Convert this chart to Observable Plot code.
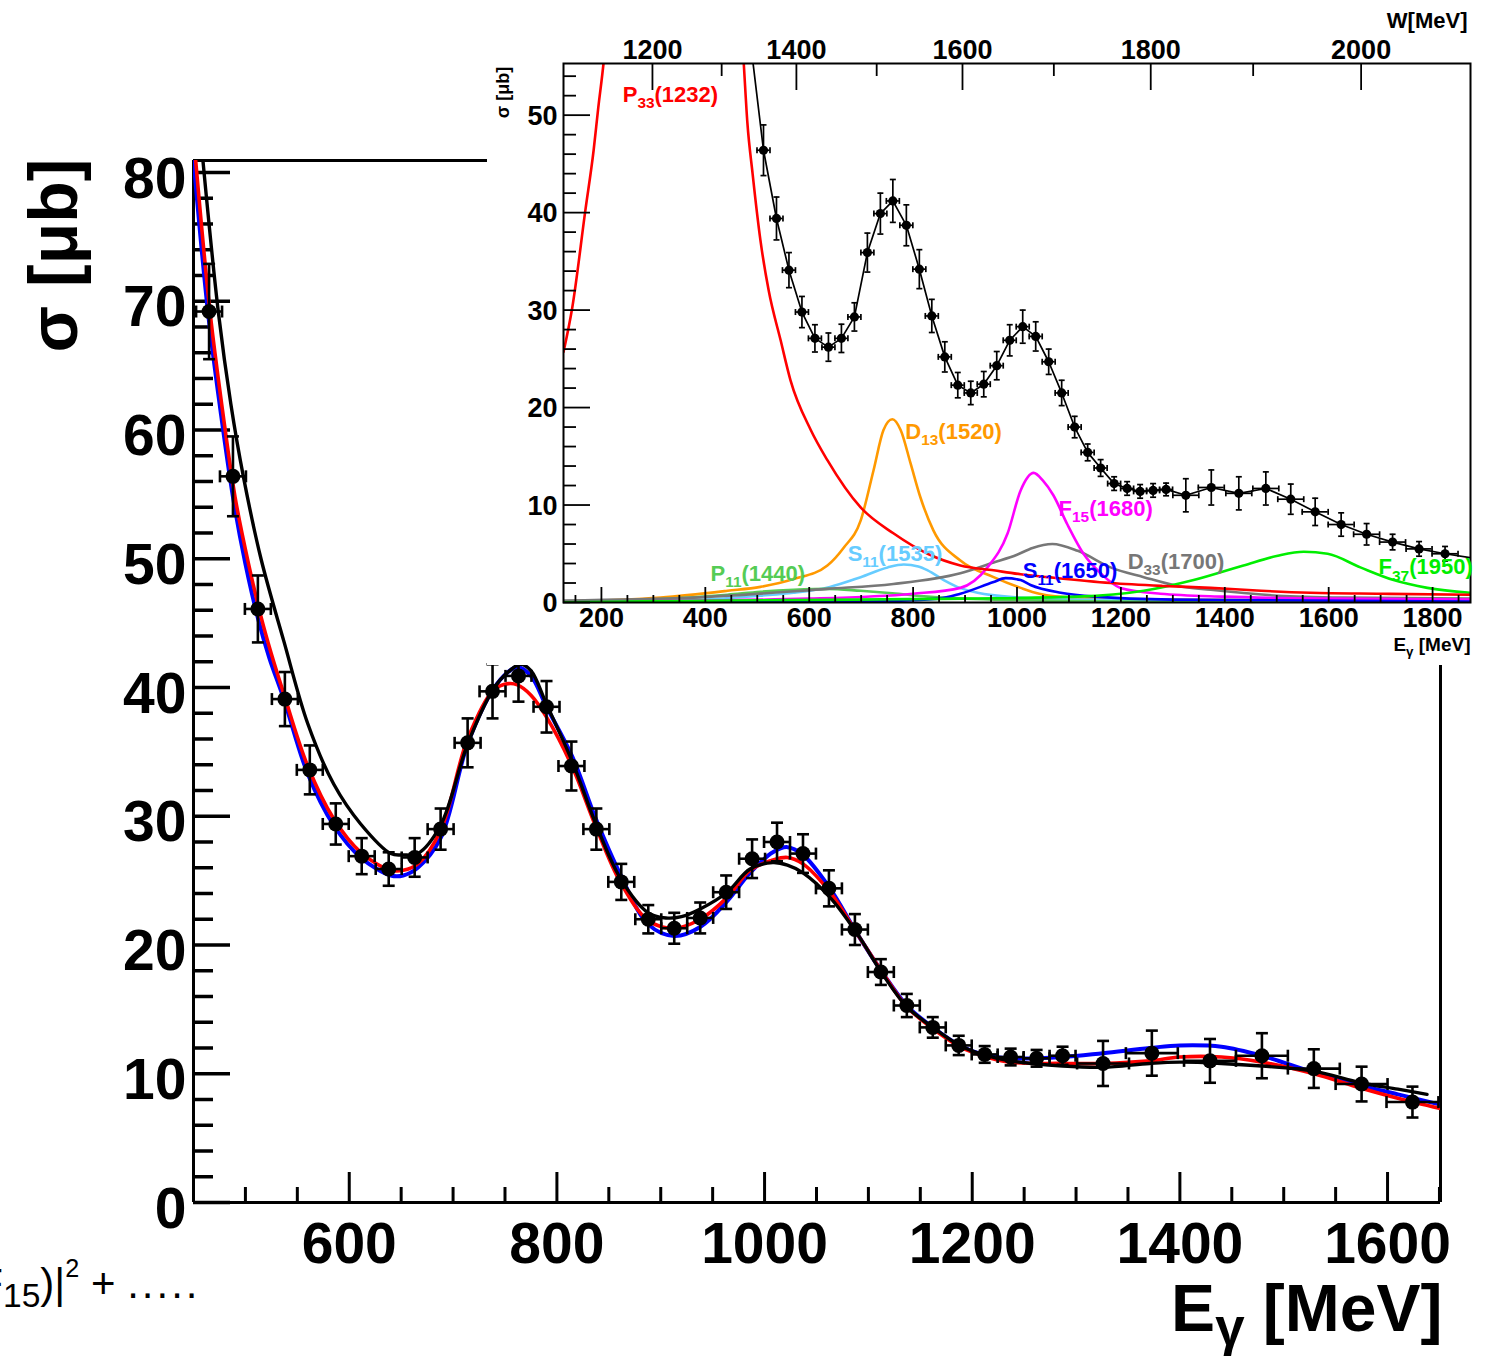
<!DOCTYPE html>
<html><head><meta charset="utf-8">
<script src="https://cdn.jsdelivr.net/npm/d3@7"></script>
<script src="https://cdn.jsdelivr.net/npm/@observablehq/plot@0.6"></script>
<style>
body{margin:0;background:#fff;}
#wrap{position:relative;width:1488px;height:1356px;overflow:hidden;background:#fff;}
</style>
</head><body><div id="wrap"></div>
<script>
// ---------------- MAIN CHART DATA ----------------
const mainE = [465,488,512,538,562,587,612,638,663,688, 714,738,763,790,814,838,862,888,913,938, 963,988,1012,1037,1062,1087,1112,1137,1162,1187, 1212,1237,1262,1287, 1326,1373,1429,1479,1529,1575,1624];
const mainV = [69.2,56.4,46.1,39.1,33.6,29.4,26.9,25.9,26.8,29.0, 35.7,39.7,40.9,38.5,33.9,29.0,24.9,22.0,21.3,22.1, 24.1,26.7,28.0,27.1,24.4,21.2,17.9,15.3,13.6,12.2, 11.5,11.3,11.2,11.4, 10.8,11.6,11.0,11.4,10.4,9.2,7.8];
const mainErr = [3.7,3.1,2.6,2.1,1.9,1.6,1.4,1.3,1.5,1.6, 1.9,2.1,2.0,2.0,1.9,1.6,1.4,1.1,1.2,1.2, 1.3,1.5,1.5,1.5,1.4,1.2,1.0,0.9,0.8,0.75, 0.65,0.65,0.65,0.7, 1.75,1.75,1.7,1.75,1.5,1.35,1.2];
const mainXErr = [12.5,12.5,12.5,12.5,12.5,12.5,12.5,12.5,12.5,12.5, 12.5,12.5,12.5,12.5,12.5,12.5,12.5,12.5,12.5,12.5, 12.5,12.5,12.5,12.5,12.5,12.5,12.5,12.5,12.5,12.5, 12.5,12.5,12.5,12.5, 25,25,25,25,25,25,25];

const blueE = [450,464,476,488,500,512,523,537,560,585, 611,640,652,666,688,714,739,753,762,775, 790,815,837,861,888,913,938,964,986,1008, 1022,1037,1063,1089,1114,1137,1162,1188,1210,1236, 1287,1326,1371,1400,1440,1479,1529,1574,1610,1651];
const blueV = [81,69.1,61.5,54.8,49.6,45.4,42.3,39.1,33.3,29.3, 26.8,25.4,25.4,26.0,28.3,35.6,39.9,41.2,41.6,40.9, 38.5,34.6,29.9,25.5,21.6,20.7,21.4,23.4,25.6,27.2, 27.6,27.0,24.4,20.9,17.8,15.3,13.6,12.2,11.5,11.2, 11.3,11.6,12.0,12.2,12.1,11.4,10.1,9.1,8.4,7.6];
const redE = [452,466,478,490,503,515,525,537,560,585, 611,640,652,666,688,714,739,753,762,775, 790,815,837,861,888,913,938,964,986,1008, 1022,1037,1063,1089,1114,1137,1162,1188,1210,1236, 1287,1326,1371,1400,1440,1479,1529,1574,1610,1651];
const redV = [81,69.1,61.5,54.8,49.6,45.5,42.6,39.5,33.9,29.8, 27.2,25.8,25.8,26.3,28.9,36.0,39.8,40.3,40.2,39.4, 37.7,33.8,29.3,24.9,21.9,21.3,22.0,23.7,25.8,26.6, 26.8,26.3,24.1,20.9,17.8,15.2,13.5,12.1,11.4,10.9, 10.8,10.8,11.0,11.3,11.3,10.9,10.0,8.9,8.1,7.3];
const blackE = [459,474,486,498,515,537,560,585,611,640, 652,666,688,714,739,753,765,775,790,815, 837,861,888,905,920,938,964,986,1008,1022, 1037,1063,1089,1114,1137,1162,1188,1210,1236,1287, 1326,1371,1400,1440,1479,1529,1574,1610,1638];
const blackV = [81,69.1,62.0,56.4,50.0,43.6,37.2,32.5,29.4,27.1, 27.0,27.1,29.3,35.6,39.9,41.2,41.8,41.3,38.7,34.2, 29.5,25.2,22.5,22.1,22.2,22.8,24.1,25.9,26.4,26.2, 25.6,23.7,20.9,17.7,15.2,13.6,12.2,11.5,11.0,10.6, 10.5,10.8,10.9,10.8,10.6,10.2,9.3,8.8,8.4];

const mainXMajor = [600,800,1000,1200,1400,1600];
const mainXMinor = [500,550,650,700,750,850,900,950,1050,1100,1150,1250,1300,1350,1450,1500,1550,1650];
const mainYMajor = [0,10,20,30,40,50,60,70,80];
const mainYMinor = [2,4,6,8,12,14,16,18,22,24,26,28,32,34,36,38,42,44,46,48,52,54,56,58,62,64,66,68,72,74,76,78];

// ---------------- INSET DATA ----------------
const insetE = [512,537,561,586,611,637,662,687,712,737, 761,787,812,836,861,886,911,936,961,986, 1011,1036,1061,1086,1111,1136,1161,1187,1212,1237, 1262,1287, 1325,1374,1427,1479,1527,1574,1624,1673,1723,1774,1824];
const insetV = [46.4,39.4,34.1,29.8,27.1,26.2,27.1,29.3,35.9,39.9, 41.2,38.7,34.2,29.4,25.2,22.3,21.5,22.4,24.3,26.9, 28.3,27.3,24.7,21.5,18.0,15.4,13.8,12.2,11.7,11.4, 11.5,11.6, 11.0,11.8,11.2,11.7,10.6,9.3,8.0,7.0,6.2,5.5,5.0];
const insetErr = [2.6,2.2,1.8,1.6,1.4,1.45,1.45,1.45,2.0,2.1, 2.2,2.1,2.0,1.7,1.55,1.3,1.2,1.3,1.45,1.6, 1.7,1.5,1.3,1.3,1.1,0.86,0.86,0.7,0.7,0.7, 0.7,0.65, 1.7,1.8,1.7,1.7,1.55,1.4,1.2,1.1,0.8,0.75,0.75];
const insetXErr = [12.5,12.5,12.5,12.5,12.5,12.5,12.5,12.5,12.5,12.5, 12.5,12.5,12.5,12.5,12.5,12.5,12.5,12.5,12.5,12.5, 12.5,12.5,12.5,12.5,12.5,12.5,12.5,12.5,12.5,12.5, 12.5,12.5, 25,25,25,25,25,25,25,25,25,25,25];
const fitStartE = [487], fitStartV = [57.5];
const fitEndE = [1873], fitEndV = [4.6];

const p33LeftE = [127,144,169,185,194,204,212];
const p33LeftV = [25.7,30.3,40.2,46.4,50.8,55.3,60];
const p33RightE = [466,474,481,491,506,522,545,564,603,635,699,762,828,891,955,1007,1060,1180,1280,1373,1470,1565,1700,1873];
const p33RightV = [62,55.3,49.2,44.0,37.2,32.0,26.9,22.8,17.7,14.6,9.75,7.1,5.0,3.8,3.3,2.9,2.6,2.0,1.7,1.5,1.2,1.0,0.9,0.8];
const d13E = [127,314,443,506,570,635,666,699,724,743,760,776,795,814,839,891,955,1007,1043,1110,1300,1873];
const d13V = [0.1,0.5,1.2,1.6,2.4,3.8,5.6,8.4,13.6,17.7,18.8,17.7,14.3,10.8,7.4,4.3,2.6,1.5,0.9,0.5,0.3,0.1];
const s11aE = [127,400,506,570,640,699,751,782,810,828,859,890,924,1007,1100,1873];
const s11aV = [0.05,0.3,0.7,1.0,1.6,2.6,3.6,3.9,3.7,3.3,2.3,1.5,1.0,0.5,0.3,0.1];
const p11E = [127,300,443,506,570,635,699,760,828,900,1000,1200,1873];
const p11V = [0.05,0.3,0.8,1.1,1.3,1.4,1.2,0.95,0.6,0.4,0.25,0.1,0.05];
const f15E = [127,600,800,891,943,982,1007,1032,1050,1070,1097,1128,1161,1199,1276,1400,1600,1873];
const f15V = [0.05,0.4,0.9,1.5,3.6,7.1,11.5,13.3,12.5,11.0,8.0,5.0,3.0,1.5,0.9,0.6,0.4,0.3];
const d33E = [127,377,635,762,891,955,1000,1030,1068,1117,1180,1244,1309,1373,1502,1629,1873];
const d33V = [0.2,0.5,1.4,1.9,3.0,4.1,4.9,5.6,6.0,5.3,3.6,2.6,1.7,1.3,0.7,0.5,0.4];
const s11bE = [127,700,850,891,955,978,1007,1026,1084,1150,1300,1873];
const s11bV = [0.02,0.1,0.4,0.9,2.1,2.5,2.3,1.8,1.0,0.6,0.3,0.1];
const f37E = [127,443,900,1117,1244,1340,1436,1502,1552,1598,1661,1725,1790,1873];
const f37V = [0.05,0.2,0.4,0.6,1.2,2.3,3.8,4.8,5.2,5.0,3.6,2.3,1.5,1.0];

const labelText = ["P_{33}(1232)","D_{13}(1520)","F_{15}(1680)","S_{11}(1535)","P_{11}(1440)","S_{11}(1650)","D_{33}(1700)","F_{37}(1950)"];
const labelE = [241,785,1080,674,410,1011,1213,1696];
const labelV = [52.1,17.5,9.6,5.0,2.9,3.2,4.2,3.6];
const labelColor = ["#ff0000","#ff9900","#ff00ff","#66ccff","#55cc55","#0000ff","#777777","#00ee00"];

const insetXMajor = [200,400,600,800,1000,1200,1400,1600,1800];
const insetXMinor = [150,250,300,350,450,500,550,650,700,750,850,900,950,1050,1100,1150,1250,1300,1350,1450,1500,1550,1650,1700,1750,1850];
const insetYMajor = [0,10,20,30,40,50];
const insetYMinor = [2,4,6,8,12,14,16,18,22,24,26,28,32,34,36,38,42,44,46,48,52,54];
const wMajor = [1200,1400,1600,1800,2000];
const wMinor = [1300,1500,1700,1900];

// ---------------- helpers ----------------
const NS = "http://www.w3.org/2000/svg";
const MN = 938.27;
const wToE = w => (w*w - MN*MN) / (2*MN);
const pairs = (E, V) => E.map((e, i) => ({E: e, v: V[i]}));
const hcap = {draw(ctx, size){const r = Math.sqrt(size/Math.PI); ctx.moveTo(-r,0); ctx.lineTo(r,0);}};
const vcap = {draw(ctx, size){const r = Math.sqrt(size/Math.PI); ctx.moveTo(0,-r); ctx.lineTo(0,r);}};

function errorMarks(data, {sw, cap, r}) {
  return [
    Plot.ruleX(data, {x: "E", y1: d => d.v - d.e, y2: d => d.v + d.e, stroke: "black", strokeWidth: sw}),
    Plot.ruleY(data, {y: "v", x1: d => d.E - d.h, x2: d => d.E + d.h, stroke: "black", strokeWidth: sw}),
    Plot.dot(data, {x: "E", y: d => d.v + d.e, symbol: hcap, r: cap, fill: "none", stroke: "black", strokeWidth: sw}),
    Plot.dot(data, {x: "E", y: d => d.v - d.e, symbol: hcap, r: cap, fill: "none", stroke: "black", strokeWidth: sw}),
    Plot.dot(data, {x: d => d.E - d.h, y: "v", symbol: vcap, r: cap, fill: "none", stroke: "black", strokeWidth: sw}),
    Plot.dot(data, {x: d => d.E + d.h, y: "v", symbol: vcap, r: cap, fill: "none", stroke: "black", strokeWidth: sw}),
    Plot.dot(data, {x: "E", y: "v", r, fill: "black", stroke: "none"})
  ];
}

// markup: _{..} subscript, _[..] large subscript, ^{..} superscript, ^[..] small superscript, ~{..} spaced
function richify(root) {
  root.querySelectorAll("text").forEach(t => {
    const s = t.textContent;
    if (!/[_^~][\{\[]/.test(s)) return;
    const fs = parseFloat(getComputedStyle(t).fontSize);
    while (t.firstChild) t.removeChild(t.firstChild);
    const re = /([_^~])(?:\{([^}]*)\}|\[([^\]]*)\])|([^_^~]+)/g;
    let m, shift = 0;
    while ((m = re.exec(s))) {
      const ts = document.createElementNS(NS, "tspan");
      let target = 0;
      if (m[4] != null) ts.textContent = m[4];
      else {
        const big = m[3] != null;
        const content = big ? m[3] : m[2];
        ts.textContent = content;
        if (m[1] === "~") {
          ts.setAttribute("letter-spacing", "3px");
        } else if (m[1] === "_") {
          ts.setAttribute("font-size", (fs * (big ? 0.8 : 0.7)) + "px");
          target = fs * (big ? 0.22 : 0.28);
        } else {
          ts.setAttribute("font-size", (fs * (big ? 0.6 : 0.7)) + "px");
          target = -fs * (big ? 0.5 : 0.45);
        }
      }
      const d = target - shift;
      if (d) ts.setAttribute("dy", d);
      shift = target;
      t.appendChild(ts);
    }
  });
}

// ---------------- MAIN PLOT ----------------
const mainData = mainE.map((E, i) => ({E, v: mainV[i], e: mainErr[i], h: mainXErr[i]}));
const W = 1488, H = 1356, mL = 193, mR = 48, mT = 160, mB = 154;
const fW = W - mL - mR, fH = H - mT - mB;
const bold = "bold";
const mid = {textAnchor: "middle", lineAnchor: "middle"};

const main = Plot.plot({
  width: W, height: H,
  marginLeft: mL, marginRight: mR, marginTop: mT, marginBottom: mB,
  x: {domain: [450, 1651], axis: null},
  y: {domain: [0, 80.93], axis: null},
  style: {background: "transparent", fontFamily: "'Liberation Sans', Arial, sans-serif", overflow: "visible"},
  marks: [
    Plot.ruleX([450, 1651], {stroke: "black", strokeWidth: 3}),
    Plot.ruleY([0, 80.93], {stroke: "black", strokeWidth: 3}),
    Plot.ruleX(mainXMajor, {stroke: "black", strokeWidth: 3, insetTop: fH - 30}),
    Plot.ruleX(mainXMinor, {stroke: "black", strokeWidth: 3, insetTop: fH - 15}),
    Plot.ruleY(mainYMajor, {stroke: "black", strokeWidth: 3.5, insetRight: fW - 37}),
    Plot.ruleY(mainYMinor, {stroke: "black", strokeWidth: 3.5, insetRight: fW - 20}),
    Plot.line(pairs(blueE, blueV), {x: "E", y: "v", stroke: "#0000ff", strokeWidth: 4, curve: "catmull-rom", clip: true}),
    Plot.line(pairs(redE, redV), {x: "E", y: "v", stroke: "#ff0000", strokeWidth: 3.6, curve: "catmull-rom", clip: true}),
    Plot.line(pairs(blackE, blackV), {x: "E", y: "v", stroke: "black", strokeWidth: 3.4, curve: "catmull-rom", clip: true}),
    ...errorMarks(mainData, {sw: 2.6, cap: 6, r: 7.5}),
    Plot.text(mainXMajor, {x: d => d, text: d => String(d), frameAnchor: "bottom", ...mid, dy: 42, fontSize: 57, fontWeight: bold}),
    Plot.text(mainYMajor, {y: d => d, text: d => String(d), frameAnchor: "left", textAnchor: "end", lineAnchor: "middle", dx: -7, dy: 7, fontSize: 57, fontWeight: bold}),
    Plot.text(["E_[γ] [MeV]"], {text: d => d, frameAnchor: "bottom-right", textAnchor: "end", lineAnchor: "middle", dy: 107, dx: 2, fontSize: 66, fontWeight: bold}),
    Plot.text(["σ [μb]"], {text: d => d, frameAnchor: "top-left", ...mid, rotate: -90, dx: -138, dy: 95, fontSize: 68, fontWeight: bold}),
    Plot.text(["F_[15])|^[2] + ~{.....}"], {text: d => d, frameAnchor: "bottom-left", textAnchor: "end", lineAnchor: "middle", dx: 7, dy: 82, fontSize: 42, fontWeight: "normal"})
  ]
});

// ---------------- INSET PLOT ----------------
const insetData = insetE.map((E, i) => ({E, v: insetV[i], e: insetErr[i], h: insetXErr[i]}));
const IW = 1001, IH = 665, iL = 76, iR = 18, iT = 63, iB = 63;
const iFW = IW - iL - iR, iFH = IH - iT - iB;
const comps = [
  [d13E, d13V, "#ff9900"], [s11aE, s11aV, "#66ccff"], [p11E, p11V, "#55cc55"],
  [d33E, d33V, "#777777"], [f15E, f15V, "#ff00ff"], [s11bE, s11bV, "#0000ff"], [f37E, f37V, "#00ee00"]
];
const labels = labelText.map((t, i) => ({t, E: labelE[i], v: labelV[i], c: labelColor[i]}));

const inset = Plot.plot({
  width: IW, height: IH,
  marginLeft: iL, marginRight: iR, marginTop: iT, marginBottom: iB,
  x: {domain: [127, 1873], axis: null},
  y: {domain: [0, 55.3], axis: null},
  style: {background: "white", fontFamily: "'Liberation Sans', Arial, sans-serif", overflow: "visible"},
  marks: [
    ...comps.map(([E, V, c]) => Plot.line(pairs(E, V), {x: "E", y: "v", stroke: c, strokeWidth: 2.6, curve: "monotone-x", clip: true})),
    Plot.line(pairs(p33LeftE, p33LeftV), {x: "E", y: "v", stroke: "#ff0000", strokeWidth: 2.6, curve: "monotone-x", clip: true}),
    Plot.line(pairs(p33RightE, p33RightV), {x: "E", y: "v", stroke: "#ff0000", strokeWidth: 2.6, curve: "monotone-x", clip: true}),
    Plot.line(pairs([...fitStartE, ...insetE, ...fitEndE], [...fitStartV, ...insetV, ...fitEndV]), {x: "E", y: "v", stroke: "black", strokeWidth: 1.7, clip: true}),
    ...errorMarks(insetData, {sw: 1.7, cap: 3, r: 4.6}),
    Plot.frame({stroke: "black", strokeWidth: 2}),
    Plot.ruleX(insetXMajor, {stroke: "black", strokeWidth: 1.8, insetTop: iFH - 15}),
    Plot.ruleX(insetXMinor, {stroke: "black", strokeWidth: 1.8, insetTop: iFH - 7}),
    Plot.ruleX(wMajor, {x: wToE, stroke: "black", strokeWidth: 1.8, insetBottom: iFH - 27}),
    Plot.ruleX(wMinor, {x: wToE, stroke: "black", strokeWidth: 1.8, insetBottom: iFH - 13}),
    Plot.ruleY(insetYMajor, {stroke: "black", strokeWidth: 1.8, insetRight: iFW - 27}),
    Plot.ruleY(insetYMinor, {stroke: "black", strokeWidth: 1.8, insetRight: iFW - 13}),
    Plot.text(insetXMajor, {x: d => d, text: d => String(d), frameAnchor: "bottom", ...mid, dy: 16, fontSize: 27, fontWeight: bold}),
    Plot.text(insetYMajor, {y: d => d, text: d => String(d), frameAnchor: "left", textAnchor: "end", lineAnchor: "middle", dx: -6, dy: 1, fontSize: 27, fontWeight: bold}),
    Plot.text(wMajor, {x: wToE, text: d => String(d), frameAnchor: "top", ...mid, dy: -13, fontSize: 27, fontWeight: bold}),
    Plot.text(labels, {x: "E", y: "v", text: "t", fill: "c", textAnchor: "start", lineAnchor: "middle", fontSize: 22, fontWeight: bold}),
    Plot.text(["W[MeV]"], {text: d => d, frameAnchor: "top-right", textAnchor: "end", lineAnchor: "middle", dx: -3, dy: -43, fontSize: 22, fontWeight: bold}),
    Plot.text(["E_{γ} [MeV]"], {text: d => d, frameAnchor: "bottom-right", textAnchor: "end", lineAnchor: "middle", dx: 0, dy: 42, fontSize: 19, fontWeight: bold}),
    Plot.text(["σ [μb]"], {text: d => d, frameAnchor: "top-left", ...mid, rotate: -90, dx: -60, dy: 29, fontSize: 18, fontWeight: bold})
  ]
});

const wrap = document.getElementById("wrap");
main.style.position = "absolute"; main.style.left = "0px"; main.style.top = "0px";
inset.style.position = "absolute"; inset.style.left = "487px"; inset.style.top = "0px";
wrap.appendChild(main);
wrap.appendChild(inset);
richify(main);
richify(inset);
</script>
</body></html>
